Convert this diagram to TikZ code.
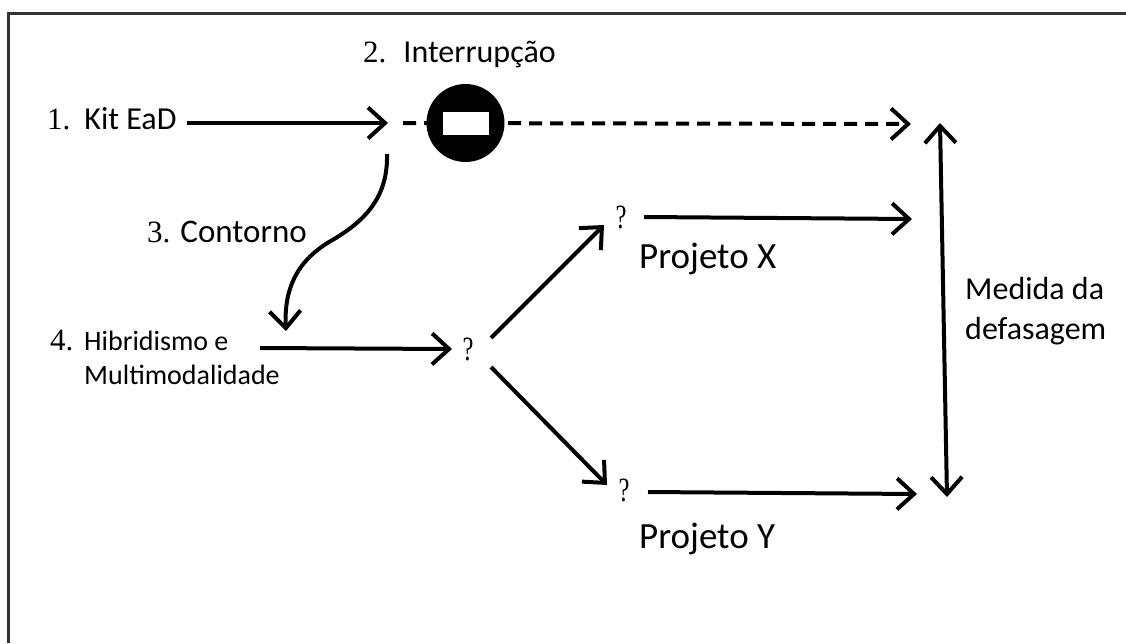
\documentclass[tikz,border=0pt]{standalone}
\usepackage{fontspec}
\setmainfont{Carlito}
\newfontfamily\numfont{Liberation Serif}
\usetikzlibrary{positioning, arrows.meta}
\newcommand{\stepnum}[1]{{\numfont\fontsize{31}{31}\selectfont #1}}
\tikzstyle{barb} = [line width=4pt, >={Straight Barb[length=17pt,width=31pt,line width=4pt]}]
\tikzstyle{arrow} = [barb,->]
\tikzstyle{dasharrow} = [arrow, dash pattern=on 13pt off 8pt]
\tikzstyle{textlabel} = [inner sep=0pt, anchor=base west, font=\fontsize{32}{36}\selectfont]
\tikzstyle{query} = [inner sep=0pt, xscale=0.72, font=\numfont\fontsize{34}{34}\selectfont]

\begin{document}
\begin{tikzpicture}[x=1pt,y=-1pt]

\useasboundingbox (0,0) rectangle (1126,643);
\draw [line width=2.8pt, draw=black!80] (8.5,643) -- (8.5,13.5) -- (1126,13.5);

\node (kit) [textlabel] at (47,129) {\stepnum{1.}\hspace{14pt}Kit EaD};
\node (interrupcao) [textlabel] at (363,62) {\stepnum{2.}\hspace{17pt}Interrupção};
\node (contorno) [textlabel, font=\fontsize{33}{36}\selectfont] at (147,242) {\stepnum{3.}\hspace{10pt}Contorno};
\node (quatro) [textlabel] at (50,350) {\stepnum{4.}};
\node (hibridismo) [textlabel, font=\fontsize{28}{34}\selectfont, align=left, anchor=north west] at (84,331) {Hibridismo e\\Multimodalidade};
\node (projetox) [textlabel, font=\fontsize{37}{40}\selectfont] at (639,268) {Projeto X};
\node (projetoy) [textlabel, font=\fontsize{37}{40}\selectfont] at (639,548) {Projeto Y};
\node (medida) [textlabel, font=\fontsize{32}{40}\selectfont, align=left, anchor=north west] at (965,277) {Medida da\\defasagem};

\node (qcentro) [query] at (468,349) {?};
\node (qx) [query] at (621,217) {?};
\node (qy) [query] at (624,490) {?};

\coordinate (kitend) at (187,123);
\coordinate (kittip) at (388,123);
\coordinate (dashstart) at (403,123);
\coordinate (dashtip) at (911,124);
\coordinate (contornostart) at (387,154);
\coordinate (contornomid) at (329,242);
\coordinate (contornotip) at (286,331);
\coordinate (hibstart) at (260,348);
\coordinate (hibtip) at (452,349);
\coordinate (upstart) at (491,338);
\coordinate (uptip) at (604,225);
\coordinate (downstart) at (491,367);
\coordinate (downtip) at (607,485);
\coordinate (xstart) at (644,217);
\coordinate (xtip) at (912,219);
\coordinate (ystart) at (648,492);
\coordinate (ytip) at (917,494);
\coordinate (medidatop) at (940,123);
\coordinate (medidabottom) at (947,497);

\draw [dasharrow] (dashstart) -- (dashtip);
\node (stop) [circle, fill=black, minimum size=78pt, inner sep=0pt] at (465.5,123) {};
\node (slot) [rectangle, fill=white, minimum width=46pt, minimum height=23pt, inner sep=0pt] at (stop.center) {};

\draw [arrow] (kitend) -- (kittip);
\draw [arrow] (contornostart) .. controls (388,195) and (368,220) .. (contornomid) .. controls (296,262) and (284,290) .. (contornotip);
\draw [arrow] (hibstart) -- (hibtip);
\draw [arrow] (upstart) -- (uptip);
\draw [arrow] (downstart) -- (downtip);
\draw [arrow] (xstart) -- (xtip);
\draw [arrow] (ystart) -- (ytip);
\draw [barb,<->] (medidatop) -- (medidabottom);

\end{tikzpicture}
\end{document}
